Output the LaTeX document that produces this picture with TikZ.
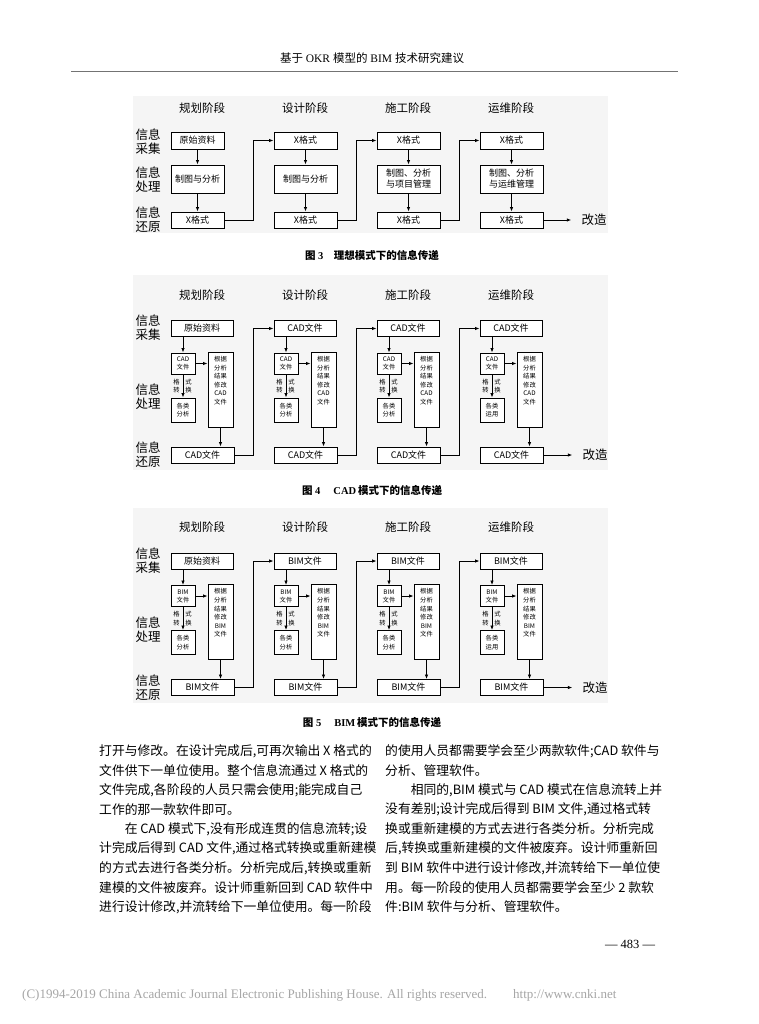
\documentclass[tikz,border=0pt]{standalone}
\usepackage{fontspec}
\setmainfont{Noto Sans CJK SC}
\newfontfamily\tms{Liberation Serif}
\usetikzlibrary{arrows.meta}
\newcommand{\fsz}[2]{\fontsize{#1pt}{#2pt}\selectfont}

\begin{document}
\begin{tikzpicture}[x=1pt, y=-1pt,
  box/.style={draw, line width=0.9pt, fill=white, inner sep=0pt, align=center, font=\fsz{9}{11}},
  tinytext/.style={font=\fsz{6.3}{8.6}, align=center, inner sep=0pt},
  stage/.style={font=\fsz{11.5}{13}},
  rowlabel/.style={font=\fsz{12.5}{14}, align=center, inner sep=2pt},
  figcap/.style={font=\fsz{10.5}{12}\bfseries},
  txt/.style={font=\fsz{12.8}{15}, anchor=west, inner sep=0pt},
  arrow/.style={-{Latex[length=4.5pt,width=3.5pt]}, line width=0.8pt}]

\useasboundingbox (0,0) rectangle (759,1024);
\fill[white] (0,0) rectangle (759,1024);

% running head
\node[font=\fsz{11.5}{13}] (head) at (372,58) {基于{\tms\ OKR }模型的{\tms\ BIM }技术研究建议};
\draw[black!55, line width=1pt] (71,72) -- (678,72);

% figure 3
\fill[black!4] (133,96) rectangle (608,233);
\foreach \i/\lx/\hd in {1/171/规划阶段, 2/274/设计阶段, 3/377/施工阶段, 4/480/运维阶段}
  \node[stage] (h3\i) at (\lx+31,108) {\hd};
\node[rowlabel] (r31) at (148,142) {信息\\采集};
\node[rowlabel] (r32) at (148,180) {信息\\处理};
\node[rowlabel] (r33) at (148,220) {信息\\还原};
\foreach \i/\cx/\w/\txa/\txb in {1/197.5/53/原始资料/制图与分析,
    2/305.5/63/X格式/制图与分析,
    3/408.5/63/X格式/{制图、分析\\与项目管理},
    4/511.5/63/X格式/{制图、分析\\与运维管理}} {
  \node[box, minimum width=\w, minimum height=17] (t3\i) at (\cx,140.5) {\txa};
  \node[box, minimum width=\w, minimum height=28] (m3\i) at (\cx,179) {\txb};
  \node[box, minimum width=\w, minimum height=16] (b3\i) at (\cx,220) {X格式};
  \draw[arrow] (t3\i.south) -- (m3\i.north);
  \draw[arrow] (m3\i.south) -- (b3\i.north);
}
\foreach \i/\j in {1/2, 2/3, 3/4}
  \draw[arrow] (b3\i.east) -| ([xshift=-20pt]t3\j.west) -- (t3\j.west);
\node[rowlabel] (gz3) at (594,220) {改造};
\draw[arrow] (b34.east) -- ([xshift=-8pt]gz3.west);
\node[figcap] (cap3) at (372,255) {图{\tms\ 3}\quad 理想模式下的信息传递};

% figures 4 and 5
\foreach \f/\dy/\fmt in {4/0/CAD, 5/232.5/BIM} {
\begin{scope}[shift={(0,\dy)}]
  \fill[black!4] (133,275) rectangle (608,470);
  \node[rowlabel] (r\f1) at (148,328) {信息\\采集};
  \node[rowlabel] (r\f2) at (148,397) {信息\\处理};
  \node[rowlabel] (r\f3) at (148,455) {信息\\还原};
  \foreach \i/\lx/\hd/\ta/\an in {1/171/规划阶段/原始资料/{各类\\分析},
      2/274/设计阶段/\fmt 文件/{各类\\分析},
      3/377/施工阶段/\fmt 文件/{各类\\分析},
      4/480/运维阶段/\fmt 文件/{各类\\运用}} {
    \node[stage] (h\f\i) at (\lx+31,295) {\hd};
    \node[box, minimum width=62, minimum height=16] (t\f\i) at (\lx+31,328.5) {\ta};
    \node[box, font=\fsz{6.3}{8}, minimum width=24, minimum height=21] (s\f\i) at (\lx+12,363.5) {\fmt\\文件};
    \node[tinytext] (gl\f\i) at (\lx+5.5,386) {格\\转};
    \node[tinytext] (gr\f\i) at (\lx+17.5,386) {式\\换};
    \node[box, font=\fsz{6.3}{8.6}, minimum width=24, minimum height=24] (a\f\i) at (\lx+12,410) {\an};
    \node[box, minimum width=25, minimum height=75] (k\f\i) at (\lx+49.5,389.5) {};
    \node[tinytext, anchor=north] (kt\f\i) at (\lx+49.5,356) {根据\\分析\\结果\\修改\\\fmt\\文件};
    \node[box, minimum width=63, minimum height=16] (b\f\i) at (\lx+31.5,455) {\fmt 文件};
    \draw[arrow] (s\f\i.north |- t\f\i.south) -- (s\f\i.north);
    \draw[arrow] (s\f\i.south) -- (a\f\i.north);
    \draw[arrow] (s\f\i.east) -- (s\f\i.east -| k\f\i.west);
    \draw[arrow] (k\f\i.south) -- (k\f\i.south |- b\f\i.north);
  }
  \foreach \i/\j in {1/2, 2/3, 3/4}
    \draw[arrow] (b\f\i.east) -| ([xshift=-20pt]t\f\j.west) -- (t\f\j.west);
  \node[rowlabel] (gz\f) at (595,455) {改造};
  \draw[arrow] (b\f4.east) -- ([xshift=-8pt]gz\f.west);
  \node[figcap] (cap\f) at (372,490) {图{\tms\ \f}\quad{\tms\ \fmt}\,模式下的信息传递};
\end{scope}
}

% body text, left column
\node[txt] (la) at (99,751) {打开与修改。在设计完成后,可再次输出 X 格式的};
\node[txt] (lb) at (99,770.5) {文件供下一单位使用。整个信息流通过 X 格式的};
\node[txt] (lc) at (99,790) {文件完成,各阶段的人员只需会使用;能完成自己};
\node[txt] (ld) at (99,809.5) {工作的那一款软件即可。};
\node[txt] (le) at (124.6,829) {在 CAD 模式下,没有形成连贯的信息流转;设};
\node[txt] (lf) at (99,848.5) {计完成后得到 CAD 文件,通过格式转换或重新建模};
\node[txt] (lg) at (99,868) {的方式去进行各类分析。分析完成后,转换或重新};
\node[txt] (lh) at (99,887.5) {建模的文件被废弃。设计师重新回到 CAD 软件中};
\node[txt] (li) at (99,907) {进行设计修改,并流转给下一单位使用。每一阶段};

% body text, right column
\node[txt] (ra) at (385,751) {的使用人员都需要学会至少两款软件;CAD 软件与};
\node[txt] (rb) at (385,770.5) {分析、管理软件。};
\node[txt] (rc) at (410.6,790) {相同的,BIM 模式与 CAD 模式在信息流转上并};
\node[txt] (rd) at (385,809.5) {没有差别;设计完成后得到 BIM 文件,通过格式转};
\node[txt] (re) at (385,829) {换或重新建模的方式去进行各类分析。分析完成};
\node[txt] (rf) at (385,848.5) {后,转换或重新建模的文件被废弃。设计师重新回};
\node[txt] (rg) at (385,868) {到 BIM 软件中进行设计修改,并流转给下一单位使};
\node[txt] (rh) at (385,887.5) {用。每一阶段的使用人员都需要学会至少 2 款软};
\node[txt] (ri) at (385,907) {件:BIM 软件与分析、管理软件。};

% folio and footer
\node[font=\tms\fsz{12.5}{14}] (folio) at (630,944) {— 483 —};
\node[font=\tms\fsz{13}{15}, text=black!35, anchor=west, inner sep=0pt] (foot) at (22,995)
  {(C)1994-2019 China Academic Journal Electronic Publishing House. All rights reserved.\qquad http://www.cnki.net};
\end{tikzpicture}
\end{document}
